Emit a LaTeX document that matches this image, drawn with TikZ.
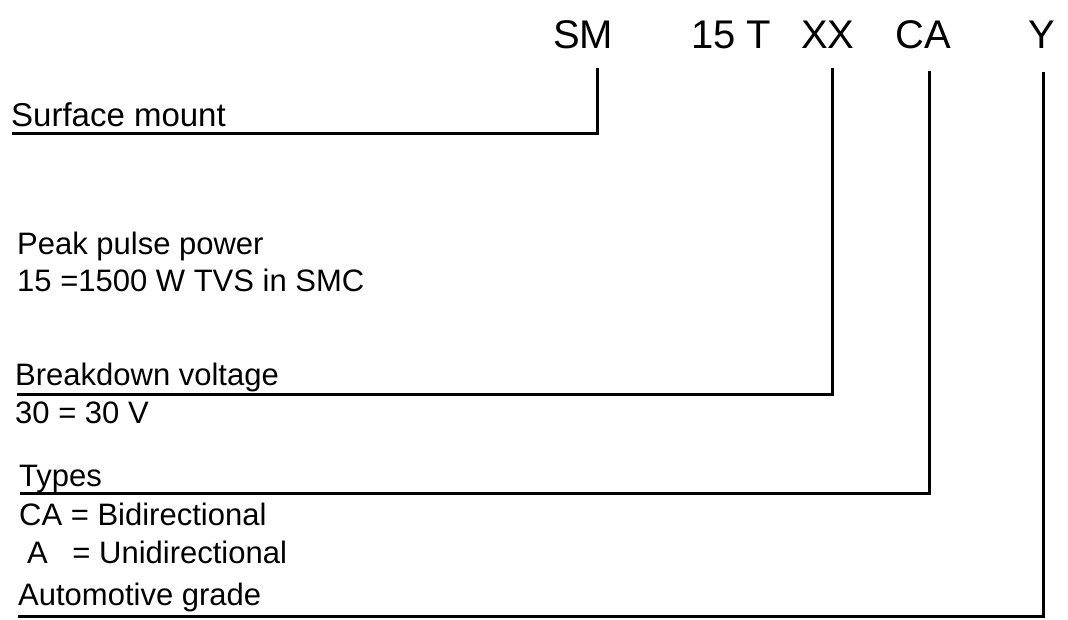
\documentclass[tikz,border=0pt]{standalone}
\usepackage{fontspec}
\setmainfont{Liberation Sans}
\begin{document}
\begin{tikzpicture}[x=1pt,y=-1pt,
  hdr/.style={anchor=base west, inner sep=0pt, font=\fontsize{40}{48}\selectfont},
  lbl/.style={anchor=base west, inner sep=0pt, font=\fontsize{31}{37}\selectfont},
  leader/.style={line width=3pt, line join=miter}]
\useasboundingbox (0,0) rectangle (1068,619);
% header code parts
\node[hdr] (sm) at (553,48) {SM};
\node[hdr] (pw) at (691,48) {15 T};
\node[hdr] (xx) at (801,48) {XX};
\node[hdr] (ca) at (895,48) {CA};
\node[hdr] (yy) at (1028,48) {Y};
% labels
\node[lbl, font=\fontsize{33}{39}\selectfont] (surf) at (11,126) {Surface mount};
\node[lbl] (peak) at (17,254) {Peak pulse power};
\node[lbl] (peakv) at (17,291) {15 =1500 W TVS in SMC};
\node[lbl] (brk) at (15,385) {Breakdown voltage};
\node[lbl] (brkv) at (15,423) {30 = 30 V};
\node[lbl] (typ) at (19,486) {Types};
\node[lbl] (typca) at (19,525) {CA = Bidirectional};
\node[lbl] (typa) at (27,563) {A\hspace{16pt} = Unidirectional};
\node[lbl] (auto) at (18,605) {Automotive grade};
% leader coordinates
\coordinate (smtop) at (597,68);  \coordinate (smleft) at (12,133);
\coordinate (xxtop) at (832,68);  \coordinate (xxleft) at (17,394);
\coordinate (catop) at (929,71);  \coordinate (caleft) at (20,493);
\coordinate (yytop) at (1043,72); \coordinate (yyleft) at (18,616);
\draw[leader] (smtop) |- (smleft);
\draw[leader] (xxtop) |- (xxleft);
\draw[leader] (catop) |- (caleft);
\draw[leader] (yytop) |- (yyleft);
\end{tikzpicture}
\end{document}
